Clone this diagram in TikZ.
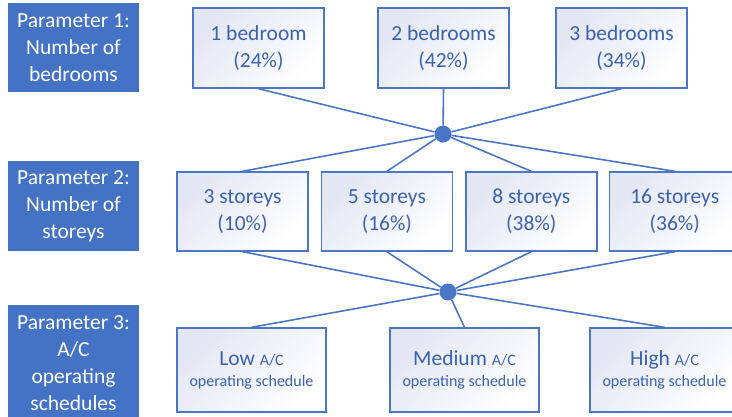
\documentclass[tikz,border=0pt]{standalone}
\usepackage{fontspec}
\setmainfont{Carlito}
\usetikzlibrary{positioning,backgrounds}
\definecolor{parblue}{HTML}{4472C4}
\definecolor{parline}{HTML}{4A76C6}
\definecolor{partext}{HTML}{3A62AE}
\definecolor{partint}{HTML}{E3E6F3}
\newcommand{\acsize}{\fontsize{16}{20}\selectfont}

\begin{document}
\begin{tikzpicture}[
  x=1pt,y=-1pt,
  font=\fontsize{21.5}{27}\selectfont,
  param/.style={fill=parblue,text=white,align=center,minimum width=131pt,inner sep=0pt},
  opt/.style={draw=parline,line width=1.4pt,top color=partint,bottom color=white,shading angle=45,text=partext,align=center,inner sep=0pt,minimum width=131pt,minimum height=80pt},
  sched/.style={opt,minimum width=149pt,minimum height=84pt,font=\fontsize{21.5}{21}\selectfont},
  hub/.style={circle,fill=parline,minimum size=17pt,inner sep=0pt},
  link/.style={parline,line width=1.6pt}
]
\useasboundingbox (0,0) rectangle (732,416);
% parameters
\node[param,minimum height=89pt] (par1) at (73.5,47.5) {Parameter 1:\\Number of\\bedrooms};
\node[param,minimum height=90pt] (par2) at (73.5,206) {Parameter 2:\\Number of\\storeys};
\node[param,minimum height=116pt] (par3) at (73.5,363) {Parameter 3:\\A/C\\operating\\schedules};
% bedrooms
\node[opt] (bed1) at (258.5,48) {1 bedroom\\(24\%)};
\node[opt] (bed2) at (443.5,48) {2 bedrooms\\(42\%)};
\node[opt] (bed3) at (621.5,48) {3 bedrooms\\(34\%)};
% storeys
\node[opt,minimum height=79pt] (sto3) at (242.5,211.5) {3 storeys\\(10\%)};
\node[opt,minimum height=79pt,right=12pt of sto3] (sto5) {5 storeys\\(16\%)};
\node[opt,minimum height=79pt,right=12pt of sto5] (sto8) {8 storeys\\(38\%)};
\node[opt,minimum height=79pt,right=11pt of sto8] (sto16) {16 storeys\\(36\%)};
% schedules
\node[sched] (low) at (251.5,370) {Low {\acsize A/C}\\{\acsize operating schedule}};
\node[sched] (med) at (464.5,370) {Medium {\acsize A/C}\\{\acsize operating schedule}};
\node[sched] (high) at (664.5,370) {High {\acsize A/C}\\{\acsize operating schedule}};
% hubs
\node[hub] (hubA) at (443,134) {};
\node[hub] (hubB) at (448,292) {};

\begin{scope}[on background layer]
\draw[link] (hubA) -- (bed1.south) (hubA) -- (bed2.south) (hubA) -- (bed3.south);
\draw[link] (hubA) -- (sto3.north) (hubA) -- (sto5.north) (hubA) -- (sto8.north) (hubA) -- (sto16.north);
\draw[link] (hubB) -- (sto3.south) (hubB) -- (sto5.south) (hubB) -- (sto8.south) (hubB) -- (sto16.south);
\draw[link] (hubB) -- (low.north) (hubB) -- (med.north) (hubB) -- (high.north);
\end{scope}
\end{tikzpicture}
\end{document}
